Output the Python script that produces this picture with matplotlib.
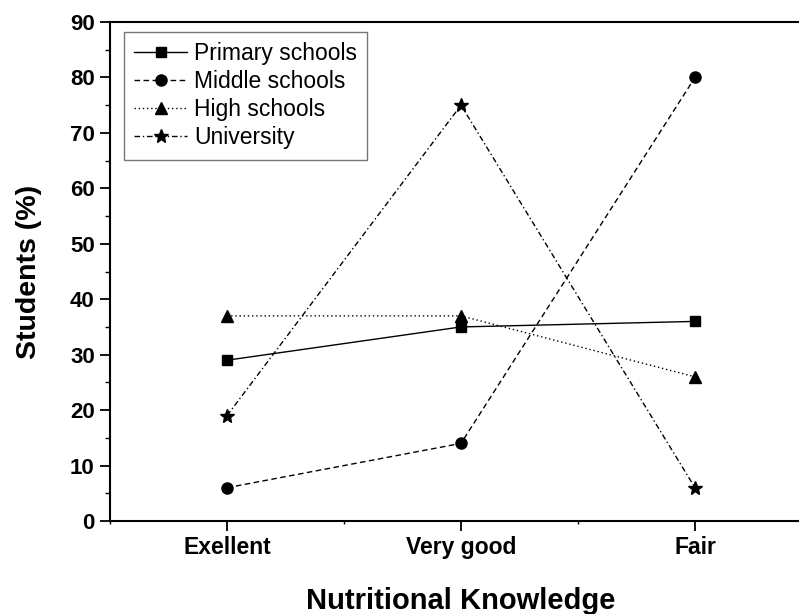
import matplotlib
matplotlib.use("Agg")
import matplotlib.pyplot as plt
from matplotlib.ticker import MultipleLocator

categories = ["Exellent", "Very good", "Fair"]
primary = [29, 35, 36]
middle = [6, 14, 80]
high = [37, 37, 26]
university = [19, 75, 6]

plt.rcParams['font.family'] = ['Liberation Sans', 'DejaVu Sans']

fig = plt.figure(figsize=(7.99, 6.14), dpi=100)
ax = fig.add_axes([110 / 799, 1 - 521 / 614, 702 / 799, 499 / 614])

x = [1, 2, 3]
ax.plot(x, primary, color='black', lw=1, ls='-', marker='s', ms=7.5, label='Primary schools')
ax.plot(x, middle, color='black', lw=1, ls=(0, (4, 2.5)), marker='o', ms=8, label='Middle schools')
ax.plot(x, high, color='black', lw=1, ls=(0, (1, 2)), marker='^', ms=9, label='High schools')
ax.plot(x, university, color='black', lw=1, ls=(0, (4, 2, 1, 2)), marker='*', ms=10, label='University')

ax.set_xlim(0.5, 3.5)
ax.set_ylim(0, 90)
ax.set_xticks(x)
ax.set_xticklabels(categories, fontsize=16.5, fontweight='bold')
ax.xaxis.set_minor_locator(MultipleLocator(0.5))
ax.yaxis.set_major_locator(MultipleLocator(10))
ax.yaxis.set_minor_locator(MultipleLocator(5))
for lab in ax.get_yticklabels():
    lab.set_fontsize(16)
    lab.set_fontweight('bold')

ax.tick_params(which='major', direction='out', length=7, width=1.3, pad=4)
ax.tick_params(which='minor', direction='out', length=3.6, width=1)
ax.tick_params(axis='x', which='minor', length=2)
for sp in ax.spines.values():
    sp.set_linewidth(1.5)

ax.set_xlabel('Nutritional Knowledge', fontsize=21, fontweight='bold', labelpad=20)
ax.set_ylabel('Students (%)', fontsize=20.5, fontweight='bold', labelpad=20)

leg = ax.legend(loc='upper left', bbox_to_anchor=(14 / 702, 1 - 10 / 499),
                fontsize=16.5, frameon=True, fancybox=False,
                handlelength=2.3, handletextpad=0.3, borderpad=0.45,
                labelspacing=0.22, borderaxespad=0)
leg.get_frame().set_edgecolor('#555555')
leg.get_frame().set_linewidth(1)

fig.savefig('out.png', dpi=100)
